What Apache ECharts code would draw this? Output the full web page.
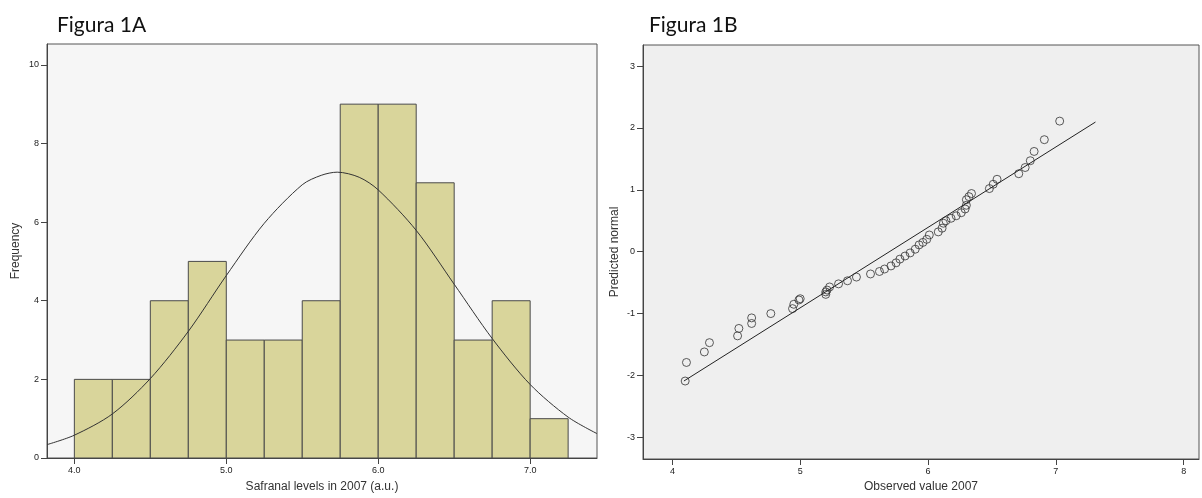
<!DOCTYPE html>
<html>
<head>
<meta charset="utf-8">
<script src="https://cdn.jsdelivr.net/npm/echarts@6/dist/echarts.min.js"></script>
<style>
  html, body { margin: 0; padding: 0; background: #fff; }
  #chart { width: 1202px; height: 498px; }
</style>
</head>
<body>
<div id="chart"></div>
<script>
// histogram bins (lower edge, width 0.25) and counts, read from Figura 1A
const binStarts = [4.0, 4.25, 4.5, 4.75, 5.0, 5.25, 5.5, 5.75, 6.0, 6.25, 6.5, 6.75, 7.0];
const binCounts = [2, 2, 4, 5, 3, 3, 4, 9, 9, 7, 3, 4, 1];
const binWidth = 0.25;

// fitted normal curve
const curveX = [3.82, 4.0, 4.25, 4.5, 4.75, 5.0, 5.25, 5.5, 5.625, 5.73, 5.875, 6.0, 6.25, 6.5, 6.75, 7.0, 7.25, 7.44];
const curveY = [0.34, 0.58, 1.12, 2.02, 3.22, 4.64, 5.97, 6.95, 7.19, 7.27, 7.14, 6.82, 5.79, 4.42, 3.04, 1.87, 1.04, 0.62];

// Q-Q plot points (observed, predicted normal), Figura 1B
const obsX = [4.10, 4.11, 4.25, 4.29, 4.51, 4.52, 4.62, 4.62, 4.77, 4.94, 4.95, 4.99, 5.00,
  5.20, 5.20, 5.21, 5.23, 5.30, 5.37, 5.44, 5.55, 5.62, 5.66, 5.71, 5.75, 5.78, 5.82, 5.86,
  5.90, 5.93, 5.96, 5.99, 6.01, 6.08, 6.11, 6.12, 6.14, 6.18, 6.22, 6.26, 6.29, 6.30, 6.30,
  6.32, 6.34, 6.48, 6.51, 6.54, 6.71, 6.76, 6.80, 6.83, 6.91, 7.03];
const predY = [-2.09, -1.79, -1.62, -1.47, -1.36, -1.24, -1.16, -1.07, -1.00, -0.92, -0.85, -0.78, -0.76,
  -0.69, -0.65, -0.62, -0.57, -0.52, -0.47, -0.41, -0.36, -0.32, -0.28, -0.23, -0.18, -0.12, -0.07, -0.02,
  0.04, 0.11, 0.15, 0.20, 0.27, 0.32, 0.38, 0.46, 0.50, 0.54, 0.58, 0.63, 0.69, 0.75, 0.84,
  0.89, 0.94, 1.02, 1.09, 1.17, 1.26, 1.36, 1.47, 1.62, 1.81, 2.11];
// reference line end points
const refLineX = [4.09, 7.31];
const refLineY = [-2.09, 2.095];

const histTicksX = [4, 5, 6, 7];
const histTicksY = [0, 2, 4, 6, 8, 10];
const qqTicksX = [4, 5, 6, 7, 8];
const qqTicksY = [-3, -2, -1, 0, 1, 2, 3];

const font = 'Liberation Sans, Arial, sans-serif';
const tickLabel = { fontFamily: font, fontSize: 9, color: '#222' };
const nameStyle = { fontFamily: font, fontSize: 12, color: '#333' };

function valueAxis(gridIndex, min, max, ticks, fmt, nameTxt, gap) {
  return {
    type: 'value', gridIndex: gridIndex, min: min, max: max,
    name: nameTxt, nameLocation: 'middle', nameGap: gap, nameTextStyle: nameStyle,
    splitLine: { show: false },
    axisLine: { show: true, onZero: false, lineStyle: { color: '#444', width: 1 } },
    axisTick: { show: true, length: 6, lineStyle: { color: '#444' }, customValues: ticks },
    axisLabel: Object.assign({ margin: 8, customValues: ticks, formatter: fmt }, tickLabel)
  };
}

var chart = echarts.init(document.getElementById('chart'));

const barData = binStarts.map((s, i) => [s, s + binWidth, binCounts[i]]);
const titleStyle = { fontFamily: 'Lato, sans-serif', fontSize: 21, fontWeight: 'normal', color: '#111' };

const option = {
  backgroundColor: '#fff',
  animation: false,
  title: [
    { text: 'Figura 1A', left: 52, top: 10, textStyle: titleStyle },
    { text: 'Figura 1B', left: 644, top: 10, textStyle: titleStyle }
  ],
  grid: [
    { left: 47, top: 44, width: 550, height: 416, show: true, backgroundColor: '#f6f6f6', borderColor: '#555', borderWidth: 1 },
    { left: 643, top: 45, width: 556, height: 415, show: true, backgroundColor: '#efefef', borderColor: '#555', borderWidth: 1 }
  ],
  xAxis: [
    valueAxis(0, 3.82, 7.44, histTicksX, v => v.toFixed(1), 'Safranal levels in 2007 (a.u.)', 23),
    valueAxis(1, 3.77, 8.12, qqTicksX, v => String(v), 'Observed value 2007', 22)
  ],
  yAxis: [
    valueAxis(0, 0, 10.53, histTicksY, v => String(v), 'Frequency', 25),
    valueAxis(1, -3.35, 3.34, qqTicksY, v => String(v), 'Predicted normal', 22)
  ],
  series: [
    {
      type: 'custom', xAxisIndex: 0, yAxisIndex: 0,
      data: barData,
      encode: { x: [0, 1], y: 2 },
      renderItem: function (params, api) {
        const p0 = api.coord([api.value(0), api.value(2)]);
        const p1 = api.coord([api.value(1), 0]);
        return {
          type: 'rect',
          shape: { x: p0[0], y: p0[1], width: p1[0] - p0[0], height: p1[1] - p0[1] },
          style: { fill: '#d9d59b', stroke: '#4a4a4a', lineWidth: 1 }
        };
      }
    },
    {
      type: 'line', xAxisIndex: 0, yAxisIndex: 0,
      data: curveX.map((x, i) => [x, curveY[i]]),
      smooth: 0.3, showSymbol: false,
      lineStyle: { color: '#333', width: 1 }
    },
    {
      type: 'line', xAxisIndex: 1, yAxisIndex: 1,
      data: refLineX.map((x, i) => [x, refLineY[i]]),
      showSymbol: false,
      lineStyle: { color: '#222', width: 1 }
    },
    {
      type: 'scatter', xAxisIndex: 1, yAxisIndex: 1,
      data: obsX.map((x, i) => [x, predY[i]]),
      symbol: 'circle', symbolSize: 8,
      itemStyle: { color: 'rgba(0,0,0,0)', borderColor: '#333', borderWidth: 1 }
    }
  ]
};
option && chart.setOption(option);
window.onresize = () => { chart.resize(); };
</script>
</body>
</html>
